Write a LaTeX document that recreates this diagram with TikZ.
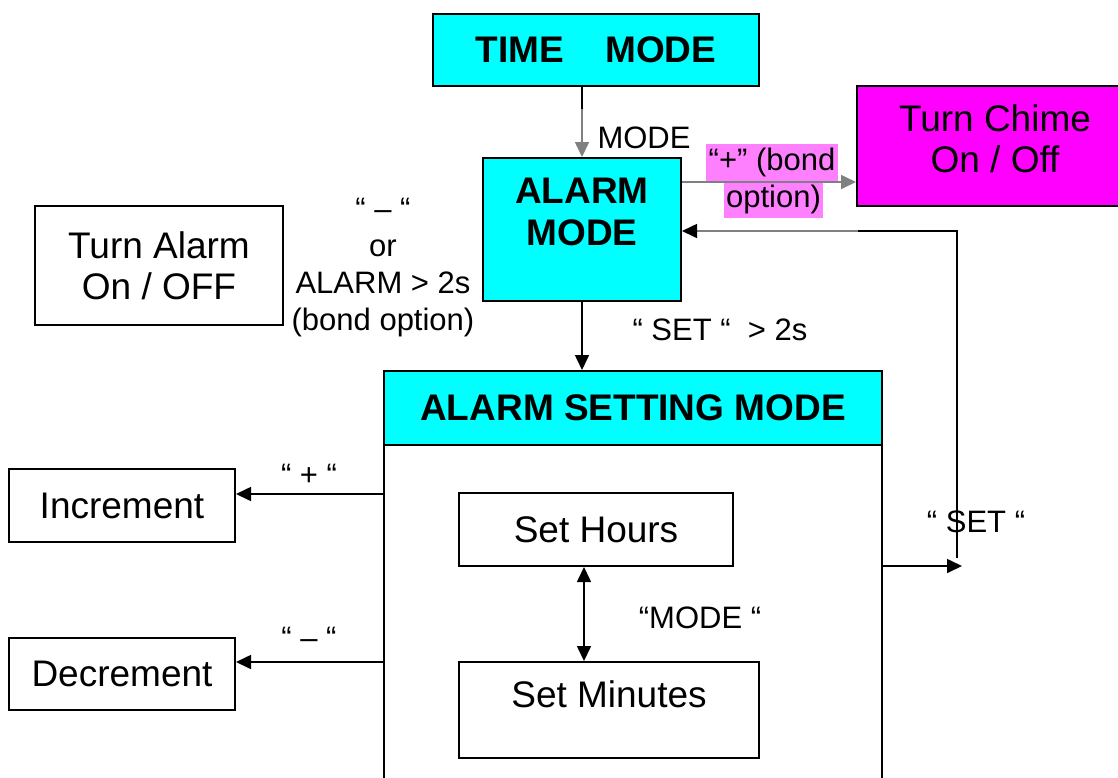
\documentclass[tikz,border=0pt]{standalone}
\usepackage{fontspec}
\setmainfont{Liberation Sans}
\usetikzlibrary{arrows.meta,calc}
\definecolor{modecyan}{HTML}{00FFFF}
\definecolor{chimemag}{HTML}{FF00FF}
\definecolor{bondpink}{HTML}{FF80FF}
\definecolor{linegray}{HTML}{808080}
\newcommand{\bigtxt}{\fontsize{37}{41}\selectfont}
\newcommand{\smalltxt}{\fontsize{31}{37}\selectfont}
\tikzset{
  box/.style={draw, line width=2pt, inner sep=0pt},
  modebox/.style={box, fill=modecyan, font=\bigtxt\bfseries},
  tip/.style={-{Triangle[length=15pt,width=14pt]}},
  arr/.style={line width=1.6pt, tip},
  grayarr/.style={arr, linegray},
  dblarr/.style={line width=1.6pt, {Triangle[length=15pt,width=14pt]}-{Triangle[length=15pt,width=14pt]}},
  lbl/.style={font=\smalltxt, align=center, inner sep=0pt},
  bond/.style={fill=bondpink, font=\smalltxt, inner xsep=2.5pt, inner ysep=0pt, minimum height=37pt}
}
\begin{document}
\begin{tikzpicture}[x=1pt,y=-1pt]
\useasboundingbox (0,0) rectangle (1118,777);
\clip (0,0) rectangle (1118,777);

\node[modebox, minimum width=326pt, minimum height=72pt] (time) at (596,50) {TIME\hspace{31pt} MODE};
\node[modebox, minimum width=198pt, minimum height=143pt] (alarm) at (582,229.5) {};
\node[font=\fontsize{37}{42}\selectfont\bfseries, align=center] (alarmtxt) at (582,212) {ALARM\\MODE};
\node[box, fill=chimemag, minimum width=276pt, minimum height=120pt] (chime) at (995,146) {};
\node[font=\bigtxt, align=center] (chimetxt) at (995,139) {Turn Chime\\On / Off};
\node[box, font=\bigtxt, align=center, minimum width=248pt, minimum height=119pt] (onoff) at (159,265.5) {Turn Alarm\\On / OFF};

\node[box, minimum width=498pt, minimum height=420pt] (setting) at (633,581) {};
\node[modebox, minimum width=498pt, minimum height=74pt] (settitle) at (633,408) {ALARM SETTING MODE};
\node[box, font=\bigtxt, minimum width=226pt, minimum height=73pt] (incr) at (122,505.5) {Increment};
\node[box, font=\bigtxt, minimum width=226pt, minimum height=72pt] (decr) at (122,674) {Decrement};
\node[box, font=\bigtxt, minimum width=274pt, minimum height=73pt] (hours) at (596,529.5) {Set Hours};
\node[box, minimum width=300pt, minimum height=96pt] (minutes) at (609,710) {};
\node[font=\bigtxt] (mintxt) at (609,694) {Set Minutes};

\node[lbl] (modelbl) at (644,138) {MODE};
\node[bond] (bondtop) at (772,162.5) {“+” (bond};
\node[bond] (bondbot) at (773.5,199) {option)};
\node[lbl] (altlbl) at (383,268) {“ – “\\or\\ALARM > 2s\\(bond option)};
\node[lbl] (setlbl) at (720,330) {“ SET “\ \ > 2s};
\node[lbl] (pluslbl) at (309,475) {“ + “};
\node[lbl] (minuslbl) at (309,638) {“ – “};
\node[lbl] (mmlbl) at (700,618) {“MODE “};
\node[lbl] (retlbl) at (976,522) {“ SET “};

\coordinate (tmid) at (582,109);
\draw[line width=1.6pt] (time.south -| tmid) -- (tmid);
\draw[grayarr] (tmid) -- (alarm.north);

\coordinate (cs) at ([yshift=47.5pt]alarm.east);
\draw[grayarr] (cs) -- (cs -| chime.west);

\coordinate (rbot) at (957,558);
\coordinate (rtop) at (957,231);
\coordinate (rmid) at (858,231);
\draw[line width=1.6pt] (rbot) -- (rtop) -- (rmid);
\draw[line width=1.6pt, linegray, -{Triangle[length=15pt,width=14pt,color=black]}] (rmid) -- (rmid -| alarm.east);

\draw[arr] (alarm.south) -- (alarm.south |- settitle.north);

\coordinate (ia) at ([yshift=11.5pt]incr.east);
\draw[arr] (ia -| setting.west) -- (ia);
\coordinate (da) at ([yshift=12pt]decr.east);
\draw[arr] (da -| setting.west) -- (da);

\coordinate (sa) at (962,566);
\draw[arr] (sa -| setting.east) -- (sa);

\coordinate (hm) at (584,0);
\draw[dblarr] (hours.south -| hm) -- (minutes.north -| hm);
\end{tikzpicture}
\end{document}
